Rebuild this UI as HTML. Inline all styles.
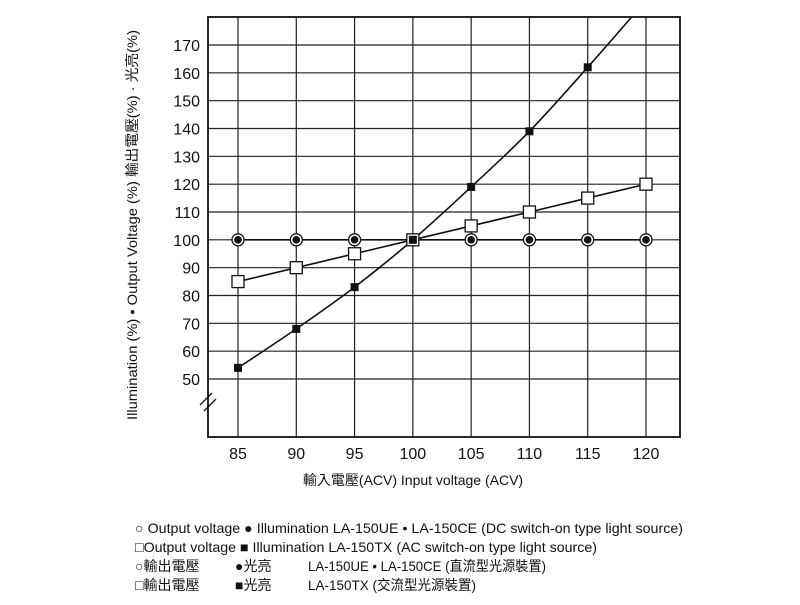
<!DOCTYPE html>
<html><head><meta charset="utf-8"><style>
body{margin:0;background:#fff;width:800px;height:600px;overflow:hidden;font-family:"Liberation Sans","Noto Sans CJK TC",sans-serif}
svg text{font-family:"Liberation Sans","Noto Sans CJK TC",sans-serif;fill:#111}
</style></head><body>
<svg width="800" height="600">
<g id="grid"></g>
<g id="axes"></g>
<g id="series"></g>
<text transform="translate(137,225) rotate(-90)" text-anchor="middle" font-size="14" textLength="390" lengthAdjust="spacingAndGlyphs">Illumination (%) • Output Voltage (%)   輸出電壓(%) · 光亮(%)</text>
<text x="413" y="485" text-anchor="middle" font-size="14">輸入電壓(ACV)  Input voltage (ACV)</text>
<g font-size="14">
<text x="135" y="533" textLength="548" lengthAdjust="spacingAndGlyphs">○ Output voltage  ● Illumination  LA-150UE • LA-150CE (DC switch-on type light source)</text>
<text x="135" y="552" textLength="462" lengthAdjust="spacingAndGlyphs">□Output voltage   ■ Illumination  LA-150TX (AC switch-on type light source)</text>
<text x="135" y="571">○輸出電壓</text><text x="235" y="571">●光亮</text><text x="308" y="571" textLength="238" lengthAdjust="spacingAndGlyphs">LA-150UE • LA-150CE (直流型光源裝置)</text>
<text x="135" y="590">□輸出電壓</text><text x="235" y="590">■光亮</text><text x="308" y="590" textLength="168" lengthAdjust="spacingAndGlyphs">LA-150TX (交流型光源裝置)</text>
</g>
</svg>
<script>
const categories=[85,90,95,100,105,110,115,120];
const illumDC=[100,100,100,100,100,100,100,100];
const voltAC=[85,90,95,100,105,110,115,120];
const illumAC=[54,68,83,100,119,139,162,186];
const yTicks=[50,60,70,80,90,100,110,120,130,140,150,160,170];
const NS="http://www.w3.org/2000/svg";
const L=208,R=680,T=17,B=437;
const xs=v=>238+(v-85)*(646-238)/35;
const ys=v=>45+(170-v)*(379-45)/120;
function mk(t,a,p){const e=document.createElementNS(NS,t);for(const k in a)e.setAttribute(k,a[k]);p.appendChild(e);return e;}
const g=document.getElementById('grid'),ax=document.getElementById('axes'),s=document.getElementById('series');
yTicks.forEach(v=>{const l=mk('line',{x1:L,x2:R,y1:ys(v),y2:ys(v),stroke:'#222','stroke-width':1.2},g);

const t=mk('text',{x:200,y:ys(v)+6,'text-anchor':'end','font-size':16},ax);t.textContent=v;
});
categories.forEach(v=>{const l=mk('line',{x1:xs(v),x2:xs(v),y1:T,y2:B,stroke:'#222','stroke-width':1.2},g);

const t=mk('text',{x:xs(v),y:459,'text-anchor':'middle','font-size':16},ax);t.textContent=v;
});
const fr=mk('rect',{x:L,y:T,width:R-L,height:B-T,fill:'none',stroke:'#111','stroke-width':1.8},ax);

const br=mk('path',{d:'M200,405 L212,393 M204,411 L216,399',stroke:'#111','stroke-width':1.3,fill:'none'},ax);

const cp=mk('clipPath',{id:'cl'},s);mk('rect',{x:L,y:T,width:R-L,height:B-T},cp);
function line(arr,name,smooth){let d='';const P=categories.map((c,i)=>[xs(c),ys(arr[i])]);
if(!smooth)d='M'+P.map(p=>p.join(',')).join(' L');else{d='M'+P[0].join(',');for(let i=0;i<P.length-1;i++){const p0=P[Math.max(0,i-1)],p1=P[i],p2=P[i+1],p3=P[Math.min(P.length-1,i+2)];
d+=` C${p1[0]+(p2[0]-p0[0])/6},${p1[1]+(p2[1]-p0[1])/6} ${p2[0]-(p3[0]-p1[0])/6},${p2[1]-(p3[1]-p1[1])/6} ${p2[0]},${p2[1]}`;}}
const e=mk('path',{d,fill:'none',stroke:'#111','stroke-width':1.6,'clip-path':'url(#cl)'},s);
}
line(illumDC,'line-illumination-dc',false);line(voltAC,'line-output-voltage-ac',false);line(illumAC,'line-illumination-ac',true);
categories.forEach((c,i)=>{const x=xs(c);
const o=mk('circle',{cx:x,cy:ys(illumDC[i]),r:6,fill:'#fff',stroke:'#111','stroke-width':1.3},s);

const f=mk('circle',{cx:x,cy:ys(illumDC[i]),r:3.8,fill:'#111'},s);

const q=mk('rect',{x:x-6,y:ys(voltAC[i])-6,width:12,height:12,fill:'#fff',stroke:'#111','stroke-width':1.3},s);

if(ys(illumAC[i])>T){const b=mk('rect',{x:x-4,y:ys(illumAC[i])-4,width:8,height:8,fill:'#111'},s);
}});
</script>
</body></html>
